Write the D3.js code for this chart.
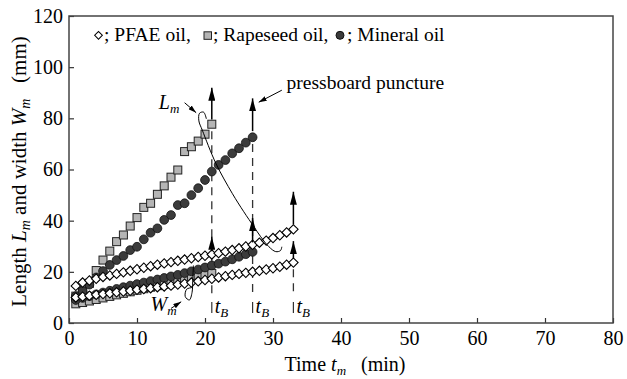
<!DOCTYPE html>
<html>
<head>
<meta charset="utf-8">
<script src="https://cdn.jsdelivr.net/npm/d3@7"></script>
<style>
  body { margin: 0; background: #fff; }
  svg { display: block; }
</style>
</head>
<body>
<div id="chart"></div>
<script>
// tick labels
const xTicks = [0, 10, 20, 30, 40, 50, 60, 70, 80];
const yTicks = [0, 20, 40, 60, 80, 100, 120];

// PFAE oil (diamonds)
const pfaeTime = [1, 2, 3, 4, 5, 6, 7, 8, 9, 10, 11, 12, 13, 14, 15, 16, 17, 18, 19, 20, 21, 22, 23, 24, 25, 26, 27, 28, 29, 30, 31, 32, 33];
const pfaeL = [14.5, 15.8, 16.6, 17.3, 18.0, 18.6, 19.2, 19.8, 20.4, 21.0, 21.6, 22.2, 22.8, 23.3, 23.8, 24.3, 24.8, 25.3, 25.8, 26.3, 26.8, 27.3, 27.9, 28.5, 29.2, 29.9, 30.6, 31.4, 32.2, 33.2, 34.3, 35.4, 36.6];
const pfaeW = [10.0, 10.3, 10.7, 11.0, 11.3, 11.6, 12.0, 12.3, 12.6, 13.0, 13.3, 13.6, 14.0, 14.3, 14.6, 15.0, 15.4, 15.8, 16.3, 16.8, 17.3, 17.8, 18.3, 18.8, 19.2, 19.6, 20.0, 20.4, 20.9, 21.4, 22.0, 22.8, 23.6];

// Rapeseed oil (squares)
const rapeTime = [1, 2, 3, 4, 5, 6, 7, 8, 9, 10, 11, 12, 13, 14, 15, 16, 17, 18, 19, 20, 21];
const rapeL = [10.5, 12.5, 15.5, 20.5, 24.6, 28.1, 31.8, 34.4, 37.9, 41.2, 45.2, 46.8, 50.3, 53.6, 57.0, 59.8, 67.0, 68.9, 71.1, 73.8, 77.7];
const rapeW = [7.5, 8.0, 8.6, 9.2, 9.8, 10.4, 11.0, 11.6, 12.2, 12.8, 13.4, 14.0, 14.6, 15.2, 15.8, 16.4, 17.0, 17.6, 18.2, 18.8, 19.4];

// Mineral oil (circles)
const minTime = [1, 2, 3, 4, 5, 6, 7, 8, 9, 10, 11, 12, 13, 14, 15, 16, 17, 18, 19, 20, 21, 22, 23, 24, 25, 26, 27];
const minL = [10.5, 12.5, 15.0, 17.8, 20.3, 22.7, 24.6, 26.2, 28.5, 29.8, 32.7, 35.3, 37.0, 40.3, 42.2, 46.1, 46.8, 50.0, 52.7, 55.9, 59.2, 61.8, 63.7, 66.3, 68.3, 70.5, 72.6];
const minW = [9.0, 9.8, 10.5, 11.2, 11.9, 12.6, 13.3, 14.0, 14.6, 15.2, 15.8, 16.4, 17.0, 17.6, 18.2, 18.8, 19.5, 20.2, 20.9, 21.7, 22.5, 23.2, 24.0, 24.9, 25.9, 26.9, 27.8];

// breakdown times and puncture arrows
const breakTimes = [21, 27, 33];
const dashTop = [75, 70, 21];
const arrowTime = [21, 21, 27, 27, 33, 33];
const arrowFrom = [79.5, 28, 75, 31.5, 38.5, 25.3];
const arrowTo = [92, 33.7, 87.8, 41, 51.3, 32];

// bracket curves (data units)
const lCurve = [[20.2, 79.8], [19.8, 82.4], [19.2, 82.0], [19.1, 79.0], [19.6, 75.4], [21.6, 62.4], [24.0, 50.7], [25.7, 43.5], [27.2, 37.6], [28.2, 33.7], [29.4, 29.8], [30.4, 27.9], [31.1, 28.3], [31.3, 29.8]];
const wCurve = [[18.3, 22.5], [18.2, 17.5], [18.1, 12.0], [17.7, 9.0], [17.1, 10.3], [17.3, 13.2], [18.0, 13.8]];

const FONT = '"Liberation Serif", "Times New Roman", Times, serif';
const width = 627, height = 379;
const margin = {top: 16, right: 14, bottom: 56, left: 69};

const svg = d3.select('#chart')
  .append('svg')
  .attr('width', width)
  .attr('height', height)
  .style('font-family', FONT);

const defs = svg.append('defs');
defs.append('marker')
  .attr('id', 'bigHead')
  .attr('viewBox', '0 0 13 7')
  .attr('refX', 13).attr('refY', 3.5)
  .attr('markerWidth', 13).attr('markerHeight', 7)
  .attr('markerUnits', 'userSpaceOnUse')
  .attr('orient', 'auto')
  .append('path').attr('d', 'M0,0L13,3.5L0,7Z').attr('fill', '#000');
defs.append('marker')
  .attr('id', 'smallHead')
  .attr('viewBox', '0 0 8 5')
  .attr('refX', 8).attr('refY', 2.5)
  .attr('markerWidth', 8).attr('markerHeight', 5)
  .attr('markerUnits', 'userSpaceOnUse')
  .attr('orient', 'auto')
  .append('path').attr('d', 'M0,0L8,2.5L0,5Z').attr('fill', '#000');

// Scales
const x = d3.scaleLinear().domain([0, 80]).range([margin.left, width - margin.right]);
const y = d3.scaleLinear().domain([0, 120]).range([height - margin.bottom, margin.top]);

// Axes (ticks point inward)
const xAxis = svg.append('g')
  .attr('transform', `translate(0,${y(0)})`)
  .call(d3.axisBottom(x).tickValues(xTicks).tickSizeInner(-5).tickSizeOuter(0).tickPadding(8));
const yAxis = svg.append('g')
  .attr('transform', `translate(${x(0)},0)`)
  .call(d3.axisLeft(y).tickValues(yTicks).tickSizeInner(-5).tickSizeOuter(0).tickPadding(6));
[xAxis, yAxis].forEach(a => {
  a.attr('font-family', null).attr('font-size', null);
  a.select('.domain').remove();
  a.selectAll('line').attr('stroke', '#333').attr('stroke-width', 1.2);
  a.selectAll('text').style('font-family', FONT).style('font-size', '20px').attr('fill', '#000');
});

// Frame
svg.append('rect')
  .attr('x', x(0)).attr('y', y(120))
  .attr('width', x(80) - x(0)).attr('height', y(0) - y(120))
  .attr('fill', 'none').attr('stroke', '#444').attr('stroke-width', 1.5);

// Dashed breakdown lines
svg.append('g').selectAll('line')
  .data(breakTimes)
  .join('line')
  .attr('x1', d => x(d)).attr('x2', d => x(d))
  .attr('y1', (d, i) => y(dashTop[i])).attr('y2', y(10.3))
  .attr('stroke', '#333').attr('stroke-width', 1.3)
  .attr('stroke-dasharray', '8,6');

// Markers
function drawSquares(times, vals) {
  svg.append('g').selectAll('rect')
    .data(times.map((t, i) => [t, vals[i]]))
    .join('rect')
    .attr('x', d => x(d[0]) - 4).attr('y', d => y(d[1]) - 4)
    .attr('width', 8).attr('height', 8)
    .attr('fill', '#b5b5b5').attr('stroke', '#222').attr('stroke-width', 1);
}
function drawCircles(times, vals) {
  svg.append('g').selectAll('circle')
    .data(times.map((t, i) => [t, vals[i]]))
    .join('circle')
    .attr('cx', d => x(d[0])).attr('cy', d => y(d[1]))
    .attr('r', 4.4)
    .attr('fill', '#3b3b3b').attr('stroke', '#111').attr('stroke-width', 0.8);
}
const diamond = d3.symbol().type(d3.symbolSquare).size(44);
function drawDiamonds(times, vals) {
  svg.append('g').selectAll('path')
    .data(times.map((t, i) => [t, vals[i]]))
    .join('path')
    .attr('d', diamond)
    .attr('transform', d => `translate(${x(d[0])},${y(d[1])}) rotate(45)`)
    .attr('fill', '#fff').attr('stroke', '#000').attr('stroke-width', 1.1);
}
drawSquares(rapeTime, rapeW);
drawSquares(rapeTime, rapeL);
drawCircles(minTime, minW);
drawCircles(minTime, minL);
drawDiamonds(pfaeTime, pfaeW);
drawDiamonds(pfaeTime, pfaeL);

// Puncture arrows
svg.append('g').selectAll('line')
  .data(arrowTime)
  .join('line')
  .attr('x1', d => x(d)).attr('x2', d => x(d))
  .attr('y1', (d, i) => y(arrowFrom[i])).attr('y2', (d, i) => y(arrowTo[i]))
  .attr('stroke', '#000').attr('stroke-width', 1.5)
  .attr('marker-end', 'url(#bigHead)');

// t_B marks
const tb = svg.append('g').selectAll('g')
  .data(breakTimes)
  .join('g')
  .attr('transform', d => `translate(${x(d)},${y(0)})`);
tb.append('line')
  .attr('x1', 0).attr('x2', 0).attr('y1', -21).attr('y2', -10)
  .attr('stroke', '#333').attr('stroke-width', 1.2);
const tbText = tb.append('text')
  .attr('x', 3).attr('y', -10)
  .style('font-size', '20px').style('font-style', 'italic');
tbText.append('tspan').text('t');
tbText.append('tspan').attr('dy', 4).style('font-size', '13px').text('B');

// Bracket curves
const curve = d3.line().x(d => x(d[0])).y(d => y(d[1])).curve(d3.curveCatmullRom);
svg.append('path').attr('d', curve(lCurve))
  .attr('fill', 'none').attr('stroke', '#000').attr('stroke-width', 1);
svg.append('path').attr('d', curve(wCurve))
  .attr('fill', 'none').attr('stroke', '#000').attr('stroke-width', 1);

// Small pointer arrows
const pointers = [
  [[17.0, 86.1], [18.7, 82.2]],
  [[15.0, 5.7], [16.5, 8.3]],
  [[31.3, 91.0], [27.9, 86.3]]
];
svg.append('g').selectAll('line')
  .data(pointers)
  .join('line')
  .attr('x1', d => x(d[0][0])).attr('y1', d => y(d[0][1]))
  .attr('x2', d => x(d[1][0])).attr('y2', d => y(d[1][1]))
  .attr('stroke', '#000').attr('stroke-width', 1)
  .attr('marker-end', 'url(#smallHead)');

// Annotation labels
function subLabel(px, py, main, sub) {
  const t = svg.append('text').attr('x', px).attr('y', py)
    .style('font-size', '20px').style('font-style', 'italic');
  t.append('tspan').text(main);
  t.append('tspan').attr('dy', 4).style('font-size', '13px').text(sub);
}
subLabel(x(13.2), y(83.5), 'L', 'm');
subLabel(x(12.0), y(4.5), 'W', 'm');
svg.append('text').attr('x', x(32)).attr('y', y(91.5))
  .style('font-size', '19.5px').text('pressboard puncture');

// Legend
const legend = svg.append('g').attr('transform', `translate(0,${y(110.3)})`);
legend.append('path').attr('d', d3.symbol().type(d3.symbolSquare).size(30))
  .attr('transform', 'translate(98.5,-5.5) rotate(45)')
  .attr('fill', '#fff').attr('stroke', '#000');
legend.append('text').attr('x', 104).attr('y', 0).style('font-size', '19.5px').text('; PFAE oil,');
legend.append('rect').attr('x', 204).attr('y', -9).attr('width', 7.5).attr('height', 7.5)
  .attr('fill', '#b5b5b5').attr('stroke', '#222');
legend.append('text').attr('x', 213).attr('y', 0).style('font-size', '19.5px').text('; Rapeseed oil,');
legend.append('circle').attr('cx', 340).attr('cy', -5.5).attr('r', 4)
  .attr('fill', '#3b3b3b').attr('stroke', '#111');
legend.append('text').attr('x', 347).attr('y', 0).style('font-size', '19.5px').text('; Mineral oil');

// Axis titles
const xt = svg.append('text').attr('x', 345).attr('y', 371)
  .attr('text-anchor', 'middle').style('font-size', '20px');
xt.append('tspan').text('Time ');
xt.append('tspan').style('font-style', 'italic').text('t');
xt.append('tspan').attr('dy', 4).style('font-size', '13px').style('font-style', 'italic').text('m');
xt.append('tspan').attr('dy', -4).text('\u00a0\u00a0 (min)');

const yt = svg.append('text')
  .attr('transform', `translate(26,${(y(0) + y(120)) / 2 + 2}) rotate(-90)`)
  .attr('text-anchor', 'middle').style('font-size', '21px');
yt.append('tspan').text('Length ');
yt.append('tspan').style('font-style', 'italic').text('L');
yt.append('tspan').attr('dy', 4).style('font-size', '14px').style('font-style', 'italic').text('m');
yt.append('tspan').attr('dy', -4).text(' and width ');
yt.append('tspan').style('font-style', 'italic').text('W');
yt.append('tspan').attr('dy', 4).style('font-size', '14px').style('font-style', 'italic').text('m');
yt.append('tspan').attr('dy', -4).text('\u00a0\u00a0 (mm)');
</script>
</body>
</html>
